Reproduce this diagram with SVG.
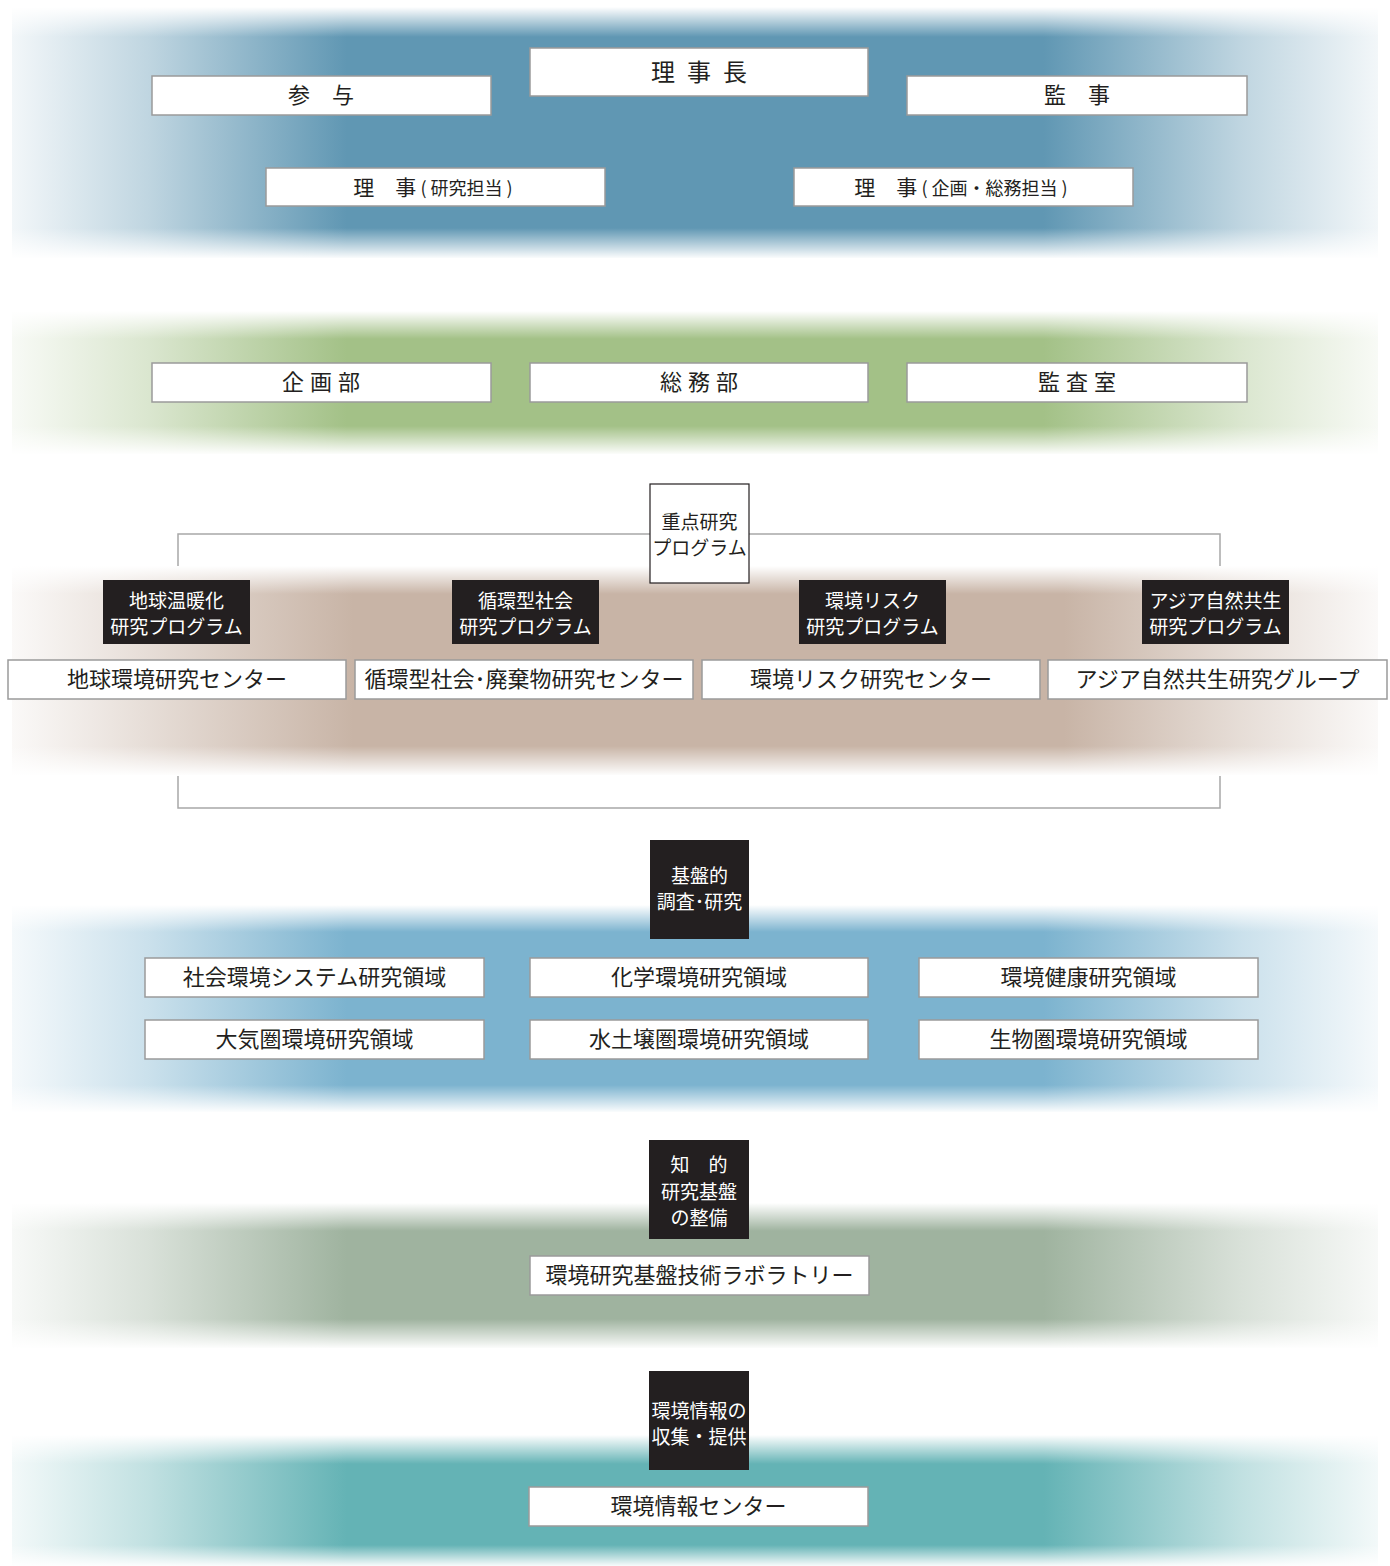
<svg xmlns="http://www.w3.org/2000/svg" width="1390" height="1566" viewBox="0 0 1390 1566">
<defs>
<linearGradient id="h1" x1="0" y1="0" x2="1" y2="0"><stop offset="0" stop-color="#6097b3" stop-opacity="0.08"/><stop offset="0.1" stop-color="#6097b3" stop-opacity="0.4"/><stop offset="0.245" stop-color="#6097b3"/><stop offset="0.755" stop-color="#6097b3"/><stop offset="0.9" stop-color="#6097b3" stop-opacity="0.4"/><stop offset="1" stop-color="#6097b3" stop-opacity="0.08"/></linearGradient>
<linearGradient id="h2" x1="0" y1="0" x2="1" y2="0"><stop offset="0" stop-color="#a3c187" stop-opacity="0.08"/><stop offset="0.1" stop-color="#a3c187" stop-opacity="0.4"/><stop offset="0.245" stop-color="#a3c187"/><stop offset="0.755" stop-color="#a3c187"/><stop offset="0.9" stop-color="#a3c187" stop-opacity="0.4"/><stop offset="1" stop-color="#a3c187" stop-opacity="0.08"/></linearGradient>
<linearGradient id="h3" x1="0" y1="0" x2="1" y2="0"><stop offset="0" stop-color="#c8b4a6" stop-opacity="0.08"/><stop offset="0.1" stop-color="#c8b4a6" stop-opacity="0.45"/><stop offset="0.25" stop-color="#c8b4a6"/><stop offset="0.77" stop-color="#c8b4a6"/><stop offset="0.9" stop-color="#c8b4a6" stop-opacity="0.45"/><stop offset="1" stop-color="#c8b4a6" stop-opacity="0.08"/></linearGradient>
<linearGradient id="h4" x1="0" y1="0" x2="1" y2="0"><stop offset="0" stop-color="#7cb3cf" stop-opacity="0.08"/><stop offset="0.1" stop-color="#7cb3cf" stop-opacity="0.4"/><stop offset="0.245" stop-color="#7cb3cf"/><stop offset="0.755" stop-color="#7cb3cf"/><stop offset="0.9" stop-color="#7cb3cf" stop-opacity="0.4"/><stop offset="1" stop-color="#7cb3cf" stop-opacity="0.08"/></linearGradient>
<linearGradient id="h5" x1="0" y1="0" x2="1" y2="0"><stop offset="0" stop-color="#9fb39f" stop-opacity="0.08"/><stop offset="0.1" stop-color="#9fb39f" stop-opacity="0.4"/><stop offset="0.245" stop-color="#9fb39f"/><stop offset="0.755" stop-color="#9fb39f"/><stop offset="0.9" stop-color="#9fb39f" stop-opacity="0.4"/><stop offset="1" stop-color="#9fb39f" stop-opacity="0.08"/></linearGradient>
<linearGradient id="h6" x1="0" y1="0" x2="1" y2="0"><stop offset="0" stop-color="#64b3b5" stop-opacity="0.08"/><stop offset="0.1" stop-color="#64b3b5" stop-opacity="0.4"/><stop offset="0.245" stop-color="#64b3b5"/><stop offset="0.755" stop-color="#64b3b5"/><stop offset="0.9" stop-color="#64b3b5" stop-opacity="0.4"/><stop offset="1" stop-color="#64b3b5" stop-opacity="0.08"/></linearGradient>
<linearGradient id="fadeDown" x1="0" y1="0" x2="0" y2="1"><stop offset="0" stop-color="#fff" stop-opacity="1"/><stop offset="1" stop-color="#fff" stop-opacity="0"/></linearGradient>
<linearGradient id="fadeUp" x1="0" y1="1" x2="0" y2="0"><stop offset="0" stop-color="#fff" stop-opacity="1"/><stop offset="1" stop-color="#fff" stop-opacity="0"/></linearGradient>
</defs>
<style>
.box{fill:#fff;stroke:#9a9a9a;stroke-width:1.5}
.dark{fill:#231f20}
.t{font-family:"Noto Sans CJK JP","Noto Sans",sans-serif;fill:#231f20;text-anchor:middle}
.w{font-family:"Noto Sans CJK JP","Noto Sans",sans-serif;fill:#fff;text-anchor:middle;font-size:19px}
.f22{font-size:22px}
.conn{fill:none;stroke:#a8a8a8;stroke-width:1.5}
</style>
<rect width="1390" height="1566" fill="#fff"/>
<g id="connectors">
<path class="conn" d="M178,575 V534 H650 M749,534 H1220 V575 M178,765 V808 H1220 V765"/>
</g>
<g id="bands">
<rect x="12" y="7" width="1366" height="251" fill="url(#h1)"/>
<rect x="12" y="7" width="1366" height="30" fill="url(#fadeDown)"/>
<rect x="12" y="228" width="1366" height="31" fill="url(#fadeUp)"/>
<rect x="12" y="311" width="1366" height="143" fill="url(#h2)"/>
<rect x="12" y="311" width="1366" height="28" fill="url(#fadeDown)"/>
<rect x="12" y="426" width="1366" height="29" fill="url(#fadeUp)"/>
<rect x="12" y="566" width="1366" height="209" fill="#fff"/>
<rect x="12" y="566" width="1366" height="209" fill="url(#h3)"/>
<rect x="12" y="566" width="1366" height="28" fill="url(#fadeDown)"/>
<rect x="12" y="746" width="1366" height="30" fill="url(#fadeUp)"/>
<rect x="12" y="905" width="1366" height="207" fill="url(#h4)"/>
<rect x="12" y="905" width="1366" height="27" fill="url(#fadeDown)"/>
<rect x="12" y="1085" width="1366" height="28" fill="url(#fadeUp)"/>
<rect x="12" y="1203" width="1366" height="145" fill="url(#h5)"/>
<rect x="12" y="1203" width="1366" height="28" fill="url(#fadeDown)"/>
<rect x="12" y="1319" width="1366" height="30" fill="url(#fadeUp)"/>
<rect x="12" y="1435" width="1366" height="131" fill="url(#h6)"/>
<rect x="12" y="1435" width="1366" height="29" fill="url(#fadeDown)"/>
<rect x="12" y="1545" width="1366" height="22" fill="url(#fadeUp)"/>
</g>
<g id="n-rijicho"><rect class="box" x="530" y="48" width="338" height="48"/><text class="t" x="705" y="81" font-size="24" letter-spacing="12">理事長</text></g>
<g id="n-sanyo"><rect class="box" x="152" y="76" width="339" height="39"/><text class="t f22" x="321" y="103">参　与</text></g>
<g id="n-kanji"><rect class="box" x="907" y="76" width="340" height="39"/><text class="t f22" x="1077" y="103">監　事</text></g>
<g id="n-riji-kenkyu"><rect class="box" x="266" y="168" width="339" height="38"/><text class="t" x="433" y="195" font-size="21">理　事<tspan font-size="18"> ( 研究担当 )</tspan></text></g>
<g id="n-riji-kikaku"><rect class="box" x="794" y="168" width="339" height="38"/><text class="t" x="961" y="195" font-size="21">理　事<tspan font-size="18"> ( 企画・総務担当 )</tspan></text></g>
<g id="n-kikakubu"><rect class="box" x="152" y="363" width="339" height="39"/><text class="t f22" x="324" y="390" letter-spacing="6">企画部</text></g>
<g id="n-somubu"><rect class="box" x="530" y="363" width="338" height="39"/><text class="t f22" x="702" y="390" letter-spacing="6">総務部</text></g>
<g id="n-kansashitsu"><rect class="box" x="907" y="363" width="340" height="39"/><text class="t f22" x="1080" y="390" letter-spacing="6">監査室</text></g>
<g id="n-juten"><rect x="650" y="484" width="99" height="99" fill="#fff" stroke="#231f20" stroke-width="1.2"/><text class="t" font-size="19" x="699.5" y="529">重点研究</text><text class="t" font-size="19" x="699.5" y="555">プログラム</text></g>
<g id="p-ondanka"><rect class="dark" x="103" y="580" width="147" height="64"/><text class="w" x="176.5" y="608">地球温暖化</text><text class="w" x="176.5" y="634">研究プログラム</text></g>
<g id="p-junkan"><rect class="dark" x="452" y="580" width="147" height="64"/><text class="w" x="525.5" y="608">循環型社会</text><text class="w" x="525.5" y="634">研究プログラム</text></g>
<g id="p-risk"><rect class="dark" x="799" y="580" width="147" height="64"/><text class="w" x="872.5" y="608">環境リスク</text><text class="w" x="872.5" y="634">研究プログラム</text></g>
<g id="p-asia"><rect class="dark" x="1142" y="580" width="147" height="64"/><text class="w" x="1215.5" y="608">アジア自然共生</text><text class="w" x="1215.5" y="634">研究プログラム</text></g>
<g id="c-chikyu"><rect class="box" x="8" y="660" width="338" height="39"/><text class="t f22" x="177" y="687">地球環境研究センター</text></g>
<g id="c-junkan"><rect class="box" x="355" y="660" width="338" height="39"/><text class="t f22" x="524" y="687">循環型社会･廃棄物研究センター</text></g>
<g id="c-risk"><rect class="box" x="702" y="660" width="338" height="39"/><text class="t f22" x="871" y="687">環境リスク研究センター</text></g>
<g id="c-asia"><rect class="box" x="1048" y="660" width="339" height="39"/><text class="t f22" x="1217.5" y="687">アジア自然共生研究グループ</text></g>
<g id="n-kiban"><rect class="dark" x="650" y="840" width="99" height="99"/><text class="w" x="699.5" y="883">基盤的</text><text class="w" x="699.5" y="909">調査･研究</text></g>
<g id="r-shakai"><rect class="box" x="145" y="958" width="339" height="39"/><text class="t f22" x="314.5" y="985">社会環境システム研究領域</text></g>
<g id="r-kagaku"><rect class="box" x="530" y="958" width="338" height="39"/><text class="t f22" x="699" y="985">化学環境研究領域</text></g>
<g id="r-kenko"><rect class="box" x="919" y="958" width="339" height="39"/><text class="t f22" x="1088.5" y="985">環境健康研究領域</text></g>
<g id="r-taiki"><rect class="box" x="145" y="1020" width="339" height="39"/><text class="t f22" x="314.5" y="1047">大気圏環境研究領域</text></g>
<g id="r-mizu"><rect class="box" x="530" y="1020" width="338" height="39"/><text class="t f22" x="699" y="1047">水土壌圏環境研究領域</text></g>
<g id="r-seibutsu"><rect class="box" x="919" y="1020" width="339" height="39"/><text class="t f22" x="1088.5" y="1047">生物圏環境研究領域</text></g>
<g id="n-chiteki"><rect class="dark" x="649" y="1140" width="100" height="99"/><text class="w" x="699" y="1172">知　的</text><text class="w" x="699" y="1199">研究基盤</text><text class="w" x="699" y="1225">の整備</text></g>
<g id="n-lab"><rect class="box" x="530" y="1256" width="339" height="39"/><text class="t f22" x="699.5" y="1283">環境研究基盤技術ラボラトリー</text></g>
<g id="n-joho"><rect class="dark" x="649" y="1371" width="100" height="99"/><text class="w" x="699" y="1418">環境情報の</text><text class="w" x="699" y="1444">収集・提供</text></g>
<g id="n-johocenter"><rect class="box" x="529" y="1487" width="339" height="39"/><text class="t f22" x="698.5" y="1514">環境情報センター</text></g>
</svg>
